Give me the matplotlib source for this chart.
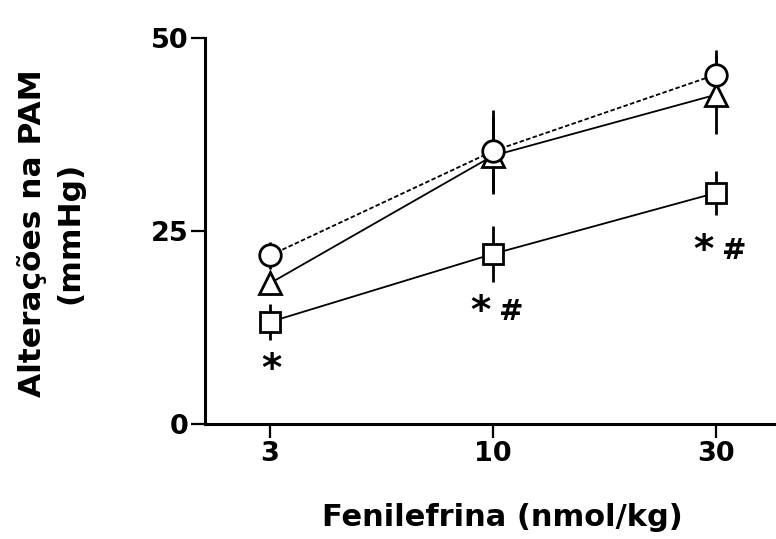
import matplotlib
matplotlib.use("Agg")
import matplotlib.pyplot as plt

doses = ["3", "10", "30"]
circle_vals = [21.8, 35.3, 45.2]
circle_err = [1.7, 5.3, 3.2]
triangle_vals = [18.2, 34.7, 42.6]
triangle_err = [1.5, 5.0, 5.1]
square_vals = [13.2, 22.0, 29.9]
square_err = [2.3, 3.6, 2.8]
star_y = [7.0, 14.5, 22.4]
hash_y = [None, 14.5, 22.4]
yticks = [0, 25, 50]

plt.rcParams['font.family'] = ['DejaVu Sans']
plt.rcParams['font.weight'] = 'bold'

fig = plt.figure(figsize=(7.76, 5.39), dpi=100)
ax = fig.add_axes([205/776, 1 - 424/539, 1 - 205/776, (424 - 37.5)/539])
x = list(range(len(doses)))

lw_err = 2.0
for vals, err in [(square_vals, square_err), (triangle_vals, triangle_err), (circle_vals, circle_err)]:
    ax.errorbar(x, vals, yerr=err, fmt='none', ecolor='black', elinewidth=lw_err, capsize=0, zorder=2)

ax.plot(x, square_vals, '-', color='black', lw=1.3, zorder=3)
ax.plot(x, triangle_vals, '-', color='black', lw=1.3, zorder=3)
ax.plot(x, circle_vals, '--', color='black', lw=1.3, dashes=(2.5, 1.3), zorder=3)

ax.plot(x, square_vals, 's', ms=14.5, mfc='white', mec='black', mew=2.0, zorder=4)
ax.plot(x, triangle_vals, '^', ms=15.5, mfc='white', mec='black', mew=2.0, zorder=5)
ax.plot(x, circle_vals, 'o', ms=15.5, mfc='white', mec='black', mew=2.0, zorder=6)

for xi, ys, yh in zip(x, star_y, hash_y):
    if yh is None:
        ax.annotate("*", (xi, ys), xytext=(1, 0), textcoords='offset points',
                    ha='center', va='center', fontsize=28, fontweight='bold')
    else:
        ax.annotate("*", (xi, ys), xytext=(-9, 0), textcoords='offset points',
                    ha='center', va='center', fontsize=28, fontweight='bold')
        ax.annotate("#", (xi, yh), xytext=(13, 0), textcoords='offset points',
                    ha='center', va='center', fontsize=21, fontweight='bold')

ax.set_xlim(-0.291, 2.269)
ax.set_ylim(0, 50)
ax.set_xticks(x)
ax.set_xticklabels(doses)
ax.set_yticks(yticks)
ax.set_yticklabels([str(v) for v in yticks])
ax.tick_params(axis='both', labelsize=19.5, width=1.6, length=10, direction='out')
ax.tick_params(axis='x', pad=2)
ax.tick_params(axis='y', pad=2)
for lbl in ax.get_xticklabels() + ax.get_yticklabels():
    lbl.set_fontweight('bold')
for s in ['top', 'right']:
    ax.spines[s].set_visible(False)
for s in ['left', 'bottom']:
    ax.spines[s].set_linewidth(2.2)

fig.text(51/776, 1 - 233/539, "Alterações na PAM\n(mmHg)", rotation=90, ha='center', va='center',
         fontsize=22.5, fontweight='bold', linespacing=1.35)
fig.text(502/776, 1 - 517/539, "Fenilefrina (nmol/kg)", ha='center', va='center',
         fontsize=22, fontweight='bold')

fig.savefig("out.png", dpi=100)
